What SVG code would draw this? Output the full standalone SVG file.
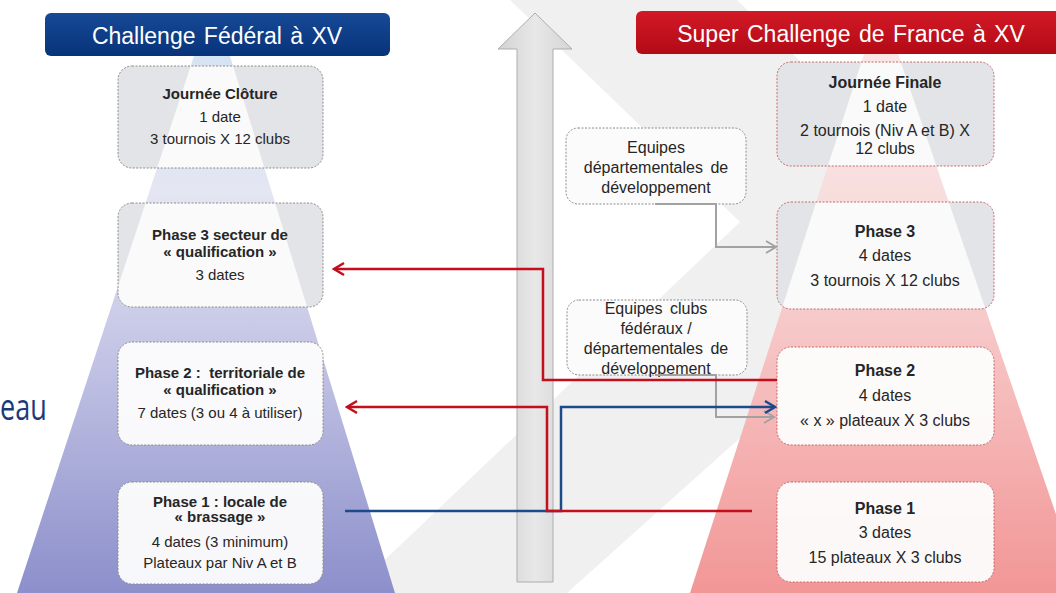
<svg xmlns="http://www.w3.org/2000/svg" width="1056" height="593" viewBox="0 0 1056 593">
<style>
.t{font-family:"Liberation Sans",Arial,sans-serif;fill:#262626;text-anchor:middle}
.l{font-size:15px}
.r{font-size:16px}
.b{font-weight:bold}
.ttl{font-family:"Liberation Sans",Arial,sans-serif;font-size:23px;fill:#fff;text-anchor:middle;word-spacing:2px}
.bl{fill:none;stroke:#8c8c8c;stroke-width:1;stroke-dasharray:2 1.5}
.br{fill:none;stroke:#c46b6b;stroke-width:1;stroke-dasharray:2 1.5}
.bs{fill:#fbfbfb;stroke:#8c8c8c;stroke-width:1;stroke-dasharray:2 1.5}
.gray{fill:#e3e4e7}
.white{fill:#fdfdfd;fill-opacity:0.95}
.beam{fill:#fff;opacity:0.8}
.cr{fill:none;stroke:#c30e1e;stroke-width:2.5}
.cb{fill:none;stroke:#1d4a8a;stroke-width:2.5}
.cg{fill:none;stroke:#a2a2a2;stroke-width:2}
</style>
<defs>
<linearGradient id="gL" x1="0" y1="56" x2="0" y2="593" gradientUnits="userSpaceOnUse">
<stop offset="0" stop-color="#d6e3f3"/>
<stop offset="0.25" stop-color="#e4e6f2"/>
<stop offset="0.55" stop-color="#c4c5e5"/>
<stop offset="1" stop-color="#8c8fcb"/>
</linearGradient>
<linearGradient id="gR" x1="0" y1="54" x2="0" y2="593" gradientUnits="userSpaceOnUse">
<stop offset="0" stop-color="#fbe6e6"/>
<stop offset="0.3" stop-color="#f8dcdc"/>
<stop offset="0.6" stop-color="#f6bebe"/>
<stop offset="1" stop-color="#f29696"/>
</linearGradient>
<linearGradient id="gBlue" x1="0" y1="0" x2="0" y2="1">
<stop offset="0" stop-color="#174996"/>
<stop offset="1" stop-color="#07337a"/>
</linearGradient>
<linearGradient id="gRed" x1="0" y1="0" x2="0" y2="1">
<stop offset="0" stop-color="#d21a26"/>
<stop offset="1" stop-color="#b20a16"/>
</linearGradient>
<linearGradient id="gArr" x1="0" y1="0" x2="1" y2="0">
<stop offset="0" stop-color="#d2d2d2"/>
<stop offset="0.5" stop-color="#e8e8e8"/>
<stop offset="1" stop-color="#d4d4d4"/>
</linearGradient>
<polygon id="pyrL" points="194,56 230,56 395,593 17,593"/>
<polygon id="pyrR" points="864,54 898,54 1083,593 690,593"/>
<clipPath id="cL1"><rect x="118" y="66" width="205" height="102" rx="14"/></clipPath>
<clipPath id="cL3"><rect x="118" y="203" width="205" height="104" rx="14"/></clipPath>
<clipPath id="cRF"><rect x="777" y="62" width="217" height="104" rx="14"/></clipPath>
<clipPath id="cR3"><rect x="777" y="202" width="217" height="107" rx="14"/></clipPath>
<marker id="aR" viewBox="-12 -8 14 16" markerWidth="14" markerHeight="16" refX="0" refY="0" orient="auto" markerUnits="userSpaceOnUse"><path d="M-10,-6 L0,0 L-10,6" fill="none" stroke="#c30e1e" stroke-width="2.5"/></marker>
<marker id="aB" viewBox="-12 -8 14 16" markerWidth="14" markerHeight="16" refX="0" refY="0" orient="auto" markerUnits="userSpaceOnUse"><path d="M-10,-6 L0,0 L-10,6" fill="none" stroke="#1d4a8a" stroke-width="2.5"/></marker>
<marker id="aG" viewBox="-12 -8 14 16" markerWidth="14" markerHeight="16" refX="0" refY="0" orient="auto" markerUnits="userSpaceOnUse"><path d="M-10,-6 L0,0 L-10,6" fill="none" stroke="#a2a2a2" stroke-width="2"/></marker>
</defs>

<g id="background">
<rect width="1056" height="593" fill="#fff"/>
<polygon points="510,0 737,0 973,229 567,593 350,593 740,222" fill="#f0f0f0"/>
<text x="0" y="420" font-family="'Open Sans',sans-serif" font-size="27" fill="#1b3a7a" transform="translate(0,420) scale(1,1.35) translate(0,-420)">eau</text>
</g>

<g id="center-arrow">
<path d="M535,13 L572,49 L553,49 L553,582 L517,582 L517,49 L498,49 Z" fill="url(#gArr)" stroke="#adadad" stroke-width="1"/>
</g>

<g id="pyramid-left"><use href="#pyrL" fill="url(#gL)"/></g>
<g id="pyramid-right"><use href="#pyrR" fill="url(#gR)"/></g>

<g id="header-left">
<rect x="45" y="13" width="345" height="43" rx="6" fill="url(#gBlue)"/>
<text class="ttl" x="217" y="44">Challenge Fédéral à XV</text>
</g>
<g id="header-right">
<rect x="636" y="11" width="440" height="43" rx="6" fill="url(#gRed)"/>
<text class="ttl" x="851" y="42">Super Challenge de France à XV</text>
</g>

<g id="node-journee-cloture">
<rect class="gray" x="118" y="66" width="205" height="102" rx="14"/>
<use href="#pyrL" class="beam" clip-path="url(#cL1)"/>
<rect class="bl" x="118" y="66" width="205" height="102" rx="14"/>
<text class="t l b" x="220" y="99">Journée Clôture</text>
<text class="t l" x="220" y="122">1 date</text>
<text class="t l" x="220" y="144">3 tournois X 12 clubs</text>
</g>

<g id="node-left-phase3">
<rect class="gray" x="118" y="203" width="205" height="104" rx="14"/>
<use href="#pyrL" class="beam" clip-path="url(#cL3)"/>
<rect class="bl" x="118" y="203" width="205" height="104" rx="14"/>
<text class="t l b" x="220" y="240">Phase 3 secteur de</text>
<text class="t l b" x="220" y="257">« qualification »</text>
<text class="t l" x="220" y="280">3 dates</text>
</g>

<g id="node-left-phase2">
<rect class="white" x="118" y="342" width="205" height="103" rx="14"/>
<rect class="bl" x="118" y="342" width="205" height="103" rx="14"/>
<text class="t l b" x="220" y="378" xml:space="preserve">Phase 2 :  territoriale de</text>
<text class="t l b" x="220" y="395">« qualification »</text>
<text class="t l" x="220" y="418">7 dates (3 ou 4 à utiliser)</text>
</g>

<g id="node-left-phase1">
<rect class="white" x="118" y="482" width="205" height="102" rx="14"/>
<rect class="bl" x="118" y="482" width="205" height="102" rx="14"/>
<text class="t l b" x="220" y="507">Phase 1 : locale de</text>
<text class="t l b" x="220" y="522">« brassage »</text>
<text class="t l" x="220" y="547">4 dates (3 minimum)</text>
<text class="t l" x="220" y="568">Plateaux par Niv A et B</text>
</g>

<g id="node-journee-finale">
<rect class="gray" x="777" y="62" width="217" height="104" rx="14"/>
<use href="#pyrR" class="beam" clip-path="url(#cRF)"/>
<rect class="br" x="777" y="62" width="217" height="104" rx="14"/>
<text class="t r b" x="885" y="88">Journée Finale</text>
<text class="t r" x="885" y="112">1 date</text>
<text class="t r" x="885" y="136">2 tournois (Niv A et B) X</text>
<text class="t r" x="885" y="154">12 clubs</text>
</g>

<g id="node-right-phase3">
<rect class="gray" x="777" y="202" width="217" height="107" rx="14"/>
<use href="#pyrR" class="beam" clip-path="url(#cR3)"/>
<rect class="br" x="777" y="202" width="217" height="107" rx="14"/>
<text class="t r b" x="885" y="237">Phase 3</text>
<text class="t r" x="885" y="261">4 dates</text>
<text class="t r" x="885" y="286">3 tournois X 12 clubs</text>
</g>

<g id="node-right-phase2">
<rect class="white" x="777" y="347" width="217" height="98" rx="14"/>
<rect class="br" x="777" y="347" width="217" height="98" rx="14"/>
<text class="t r b" x="885" y="376">Phase 2</text>
<text class="t r" x="885" y="401">4 dates</text>
<text class="t r" x="885" y="426">« x » plateaux X 3 clubs</text>
</g>

<g id="node-right-phase1">
<rect class="white" x="777" y="482" width="217" height="100" rx="14"/>
<rect class="br" x="777" y="482" width="217" height="100" rx="14"/>
<text class="t r b" x="885" y="514">Phase 1</text>
<text class="t r" x="885" y="538">3 dates</text>
<text class="t r" x="885" y="563">15 plateaux X 3 clubs</text>
</g>

<g id="node-equipes-dep">
<rect class="bs" x="566" y="128" width="180" height="76" rx="12"/>
<text class="t r" x="656" y="153">Equipes</text>
<text class="t r" x="656" y="173" word-spacing="3">départementales de</text>
<text class="t r" x="656" y="193">développement</text>
</g>

<g id="node-equipes-clubs">
<rect class="bs" x="567" y="300" width="180" height="75" rx="12"/>
<text class="t r" x="656" y="314" word-spacing="3">Equipes clubs</text>
<text class="t r" x="656" y="334">fédéraux /</text>
<text class="t r" x="656" y="354" word-spacing="3">départementales de</text>
<text class="t r" x="656" y="374">développement</text>
</g>

<g id="connectors">
<polyline class="cg" points="655,204 716,204 716,247 776,247" marker-end="url(#aG)"/>
<polyline class="cg" points="655,375 716,375 716,417 774,417" marker-end="url(#aG)"/>
<polyline class="cr" points="777,380 543,380 543,269 334,269" marker-end="url(#aR)"/>
<polyline class="cb" points="345,511 561,511 561,407 775,407" marker-end="url(#aB)"/>
<polyline class="cr" points="752,511 547,511 547,407 347,407" marker-end="url(#aR)"/>
</g>
</svg>
